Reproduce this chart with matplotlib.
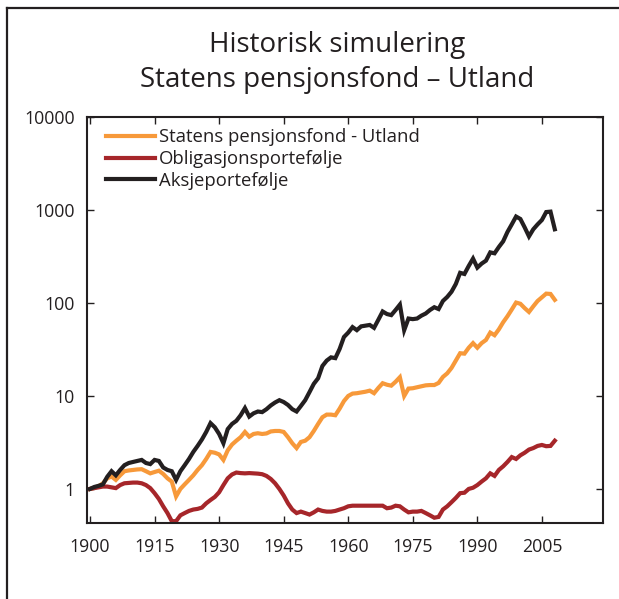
import numpy as np
import matplotlib
matplotlib.use("Agg")
import matplotlib.pyplot as plt
from matplotlib.lines import Line2D
from matplotlib.ticker import FixedLocator, NullLocator

# Data (index 1900 = 1, log scale)
years = np.arange(1900, 2009)

aksje = [
    1.0, 1.05, 1.08, 1.12, 1.35, 1.55, 1.4, 1.6, 1.8, 1.9,            # 1900-1909
    1.95, 2.0, 2.05, 1.9, 1.85, 2.05, 2.0, 1.7, 1.6, 1.55,            # 1910-1919
    1.25, 1.55, 1.8, 2.1, 2.5, 2.9, 3.4, 4.1, 5.1, 4.6,               # 1920-1929
    3.9, 3.1, 4.4, 5.0, 5.4, 6.2, 7.4, 6.0, 6.5, 6.8,                 # 1930-1939
    6.7, 7.2, 7.9, 8.5, 9.0, 8.6, 8.0, 7.2, 6.8, 7.8,                 # 1940-1949
    9.0, 11.0, 13.5, 15.5, 21, 24, 26, 25.5, 32, 43,                  # 1950-1959
    48, 55, 51, 56, 57, 58, 54, 66, 81, 76,                           # 1960-1969
    74, 84, 96, 51, 68, 67, 68, 73, 77, 84,                           # 1970-1979
    90, 86, 105, 116, 132, 160, 211, 205, 250, 300,                   # 1980-1989
    240, 265, 285, 350, 342, 400, 460, 580, 700, 850,                 # 1990-1999
    800, 650, 520, 620, 700, 780, 950, 960, 620,                      # 2000-2008
]

spu = [
    1.0, 1.03, 1.07, 1.15, 1.3, 1.36, 1.25, 1.4, 1.55, 1.58,
    1.6, 1.62, 1.63, 1.55, 1.47, 1.52, 1.57, 1.45, 1.3, 1.2,
    0.83, 1.0, 1.12, 1.25, 1.4, 1.6, 1.8, 2.1, 2.5, 2.45,
    2.35, 2.05, 2.6, 3.0, 3.3, 3.6, 4.1, 3.65, 3.9, 3.97,
    3.9, 3.95, 4.15, 4.2, 4.2, 4.1, 3.6, 3.1, 2.75, 3.2,
    3.3, 3.6, 4.2, 5.0, 5.9, 6.3, 6.3, 6.2, 7.3, 8.8,
    10.0, 10.6, 10.7, 10.9, 11.1, 11.4, 10.7, 12.2, 13.7, 13.2,
    12.9, 14.2, 15.9, 10.0, 12.0, 12.1, 12.4, 12.7, 13.0, 13.1,
    13.1, 13.8, 16.0, 17.5, 20, 24, 28.8, 28.5, 33, 37,
    33, 37, 40, 48, 45, 52, 62, 72, 85, 101,
    98, 88, 80, 92, 105, 115, 126, 125, 108,
]

oblig = [
    1.0, 1.02, 1.04, 1.06, 1.06, 1.04, 1.02, 1.1, 1.15, 1.16,
    1.17, 1.17, 1.15, 1.1, 1.02, 0.9, 0.78, 0.65, 0.55, 0.45,
    0.45, 0.52, 0.55, 0.58, 0.6, 0.61, 0.63, 0.7, 0.76, 0.82,
    0.92, 1.1, 1.3, 1.43, 1.5, 1.48, 1.47, 1.48, 1.47, 1.46,
    1.44, 1.38, 1.28, 1.15, 1.0, 0.85, 0.7, 0.6, 0.55, 0.57,
    0.55, 0.53, 0.56, 0.6, 0.58, 0.57, 0.57, 0.58, 0.6, 0.62,
    0.65, 0.66, 0.66, 0.66, 0.66, 0.66, 0.66, 0.66, 0.66, 0.62,
    0.63, 0.66, 0.65, 0.6, 0.56, 0.57, 0.57, 0.58, 0.55, 0.52,
    0.49, 0.5, 0.6, 0.65, 0.72, 0.8, 0.9, 0.91, 1.0, 1.03,
    1.1, 1.2, 1.3, 1.47, 1.38, 1.6, 1.75, 1.95, 2.2, 2.1,
    2.3, 2.45, 2.65, 2.75, 2.9, 2.97, 2.88, 2.9, 3.3,
]

labels = ["Statens pensjonsfond - Utland", "Obligasjonsportefølje", "Aksjeportefølje"]
colors = ["#F7993A", "#A6262A", "#231F20"]

x_ticks = [1900, 1915, 1930, 1945, 1960, 1975, 1990, 2005]
y_ticks = [1, 10, 100, 1000, 10000]
y_ticklabels = ["1", "10", "100", "1000", "10000"]

plt.rcParams["font.family"] = ["Open Sans", "DejaVu Sans"]

fig = plt.figure(figsize=(6.19, 5.99), dpi=100)
ax = fig.add_axes([87 / 619, 76 / 599, 516 / 619, 406 / 599])

for vals, lab, col in zip([spu, oblig, aksje], labels, colors):
    ax.plot(years, vals, color=col, lw=3.0, label=lab, solid_joinstyle="miter")

ax.set_yscale("log")
ax.set_ylim(0.43, 10000)
ax.set_xlim(1899.3, 2019.2)

ax.yaxis.set_major_locator(FixedLocator(y_ticks))
ax.yaxis.set_minor_locator(NullLocator())
ax.set_yticklabels(y_ticklabels)
ax.set_xticks(x_ticks)
ax.set_xticklabels([str(v) for v in x_ticks])

ax.tick_params(axis="both", which="major", direction="in", length=5, width=1.0,
               labelsize=12.8, colors="#231F20", top=True, right=True)
ax.tick_params(axis="y", pad=9)
ax.tick_params(axis="x", pad=11)
for s in ax.spines.values():
    s.set_linewidth(1.5)
    s.set_color("#231F20")

leg = ax.legend(loc="upper left", frameon=False, fontsize=13.3, handlelength=2.65,
                handletextpad=0.22, labelspacing=0.2, borderaxespad=0.0,
                bbox_to_anchor=(0.022, 0.99))
for t in leg.get_texts():
    t.set_color("#231F20")

fig.text(337 / 619, 1 - 45 / 599, "Historisk simulering", ha="center", va="center",
         fontsize=20, color="#231F20")
fig.text(337 / 619, 1 - 80 / 599, "Statens pensjonsfond \u2013 Utland", ha="center",
         va="center", fontsize=20, color="#231F20")

# outer frame: left and top edges
fig.add_artist(Line2D([7 / 619, 7 / 619], [0, 1 - 8 / 599], transform=fig.transFigure,
                      color="#231F20", lw=1.6))
fig.add_artist(Line2D([7 / 619, 1], [1 - 8 / 599, 1 - 8 / 599], transform=fig.transFigure,
                      color="#231F20", lw=1.6))

fig.savefig("out.png", dpi=100)
